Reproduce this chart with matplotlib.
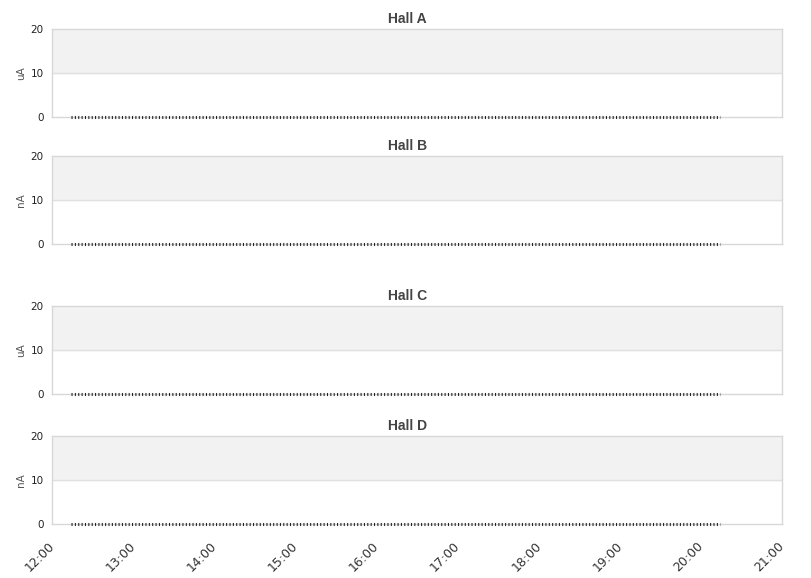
import matplotlib
matplotlib.use('Agg')
import matplotlib.pyplot as plt
import matplotlib.dates as mdates
import matplotlib.transforms as mtransforms
import pandas as pd
import numpy as np

halls = ['Hall A', 'Hall B', 'Hall C', 'Hall D']
units = ['uA', 'nA', 'uA', 'nA']
start = '2024-01-01 12:14'
end = '2024-01-01 20:14'
times = pd.date_range(start, end, freq='2min')
currents = {
    'Hall A': [0.0] * len(times),
    'Hall B': [0.0] * len(times),
    'Hall C': [0.0] * len(times),
    'Hall D': [0.0] * len(times),
}
x_min = pd.Timestamp('2024-01-01 12:00')
x_max = pd.Timestamp('2024-01-01 21:00')

W, H = 811, 578
fig = plt.figure(figsize=(W / 100, H / 100), dpi=100)

# pixel boxes (top, bottom) for each panel
boxes = [(29, 117), (156, 244), (306, 394), (436, 524)]
left, right = 52, 782
spine_color = '#d8d8d8'

for i, hall in enumerate(halls):
    top, bottom = boxes[i]
    ax = fig.add_axes([left / W, 1 - bottom / H, (right - left) / W, (bottom - top) / H])
    ax.axhspan(10, 20, color='#f2f2f2', zorder=0)
    ax.axhline(10, color='#e0e0e0', lw=1, zorder=1)
    ax.plot(times, currents[hall], color='#222222', lw=2.2, linestyle=(0, (0.35, 0.75)), zorder=3,
            clip_on=False)
    ax.set_xlim(x_min, x_max)
    ax.set_ylim(0, 20)
    ax.set_yticks([0, 10, 20])
    for s in ax.spines.values():
        s.set_color(spine_color)
        s.set_linewidth(1)
    ax.tick_params(axis='y', length=0, labelsize=7.5, colors='#222222', pad=6)
    ax.set_ylabel(units[i], fontsize=7.5, color='#555555')
    ax.yaxis.set_label_coords(-26 / (right - left), 0.5)
    # title is centred on the figure, not on the axes
    fig.text((W / 2 + 2) / W, 1 - (top - 10) / H, hall, fontsize=10, fontweight='bold',
             color='#444444', family='Liberation Sans', ha='center', va='center')
    ax.xaxis.set_major_locator(mdates.HourLocator())
    ax.xaxis.set_major_formatter(mdates.DateFormatter('%H:%M'))
    if i == len(halls) - 1:
        ax.tick_params(axis='x', length=0, labelsize=9, colors='#333333', pad=11)
        shift = mtransforms.ScaledTranslation(-4 / 100, 0, fig.dpi_scale_trans)
        for lab in ax.get_xticklabels():
            lab.set_rotation(45)
            lab.set_ha('right')
            lab.set_rotation_mode('anchor')
            lab.set_transform(lab.get_transform() + shift)
    else:
        ax.tick_params(axis='x', length=0, labelbottom=False)

fig.savefig('out.png', dpi=100)
